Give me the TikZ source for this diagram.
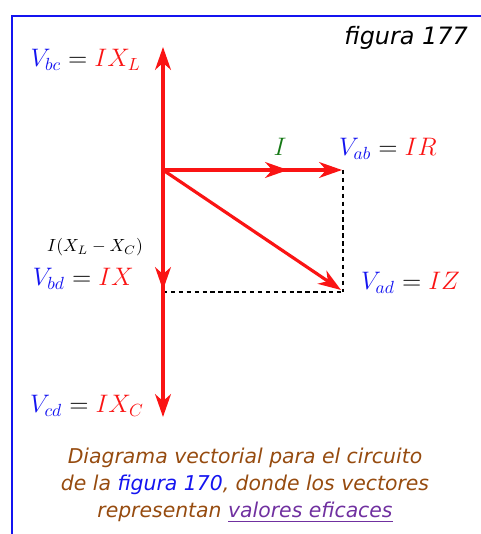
\documentclass[tikz,border=0pt]{standalone}
\usepackage{amsmath}
\usepackage{fontspec}
\setmainfont{DejaVu Sans}
\usepackage{xcolor}
\usepackage{tikz}
\usetikzlibrary{arrows.meta, positioning}
\definecolor{vblue}{RGB}{20,20,240}
\definecolor{vred}{RGB}{250,20,20}
\definecolor{igreen}{RGB}{20,120,20}
\definecolor{capbrown}{RGB}{150,75,15}
\definecolor{linkpurple}{RGB}{112,48,160}

\begin{document}
\begin{tikzpicture}[
    >={Stealth[length=13pt, width=9pt, inset=4pt]},
    vec/.style={->, vred, line width=1.8pt},
    proj/.style={dashed, black, line width=0.6pt, dash pattern=on 2.5pt off 2pt},
    mlab/.style={font=\Large},
    small/.style={font=\normalsize}
]
\useasboundingbox (0,0) rectangle (9.62,10.68);
% ---- frame ----
\draw[vblue, line width=1.6pt] (0.24,0) -- (0.24,10.36) -- (9.62,10.36);
\node[anchor=east, font=\itshape\fontsize{13.6}{15}\selectfont] (fig) at (9.48,9.92) {figura 177};

% ---- points ----
\coordinate (O) at (3.26,7.28);
\coordinate (L) at (3.26,9.74);
\coordinate (D) at (3.26,4.88);
\coordinate (C) at (3.26,2.34);
\coordinate (R) at (6.84,7.28);
\coordinate (Im) at (5.76,7.28);
\coordinate (Z) at (6.82,4.88);
\coordinate (Rc) at (6.86,7.28);
\coordinate (Dc) at (3.26,4.84);
\coordinate (Zc) at (6.86,4.84);

% ---- projections ----
\draw[proj] (Rc) -- (Zc);
\draw[proj] (Dc) -- (Zc);

% ---- vectors ----
\draw[vec] (O) -- (L);
\draw[vec] (O) -- (C);
\draw[vec] (O) -- (D);
\draw[vec] (O) -- (R);
\draw[vec] (O) -- (Im);
\draw[vec] (O) -- (Z);

% ---- labels ----
\node[mlab, anchor=east] (vbc) at (2.94,9.48) {$\color{vblue}V_{bc}\color{black} = \color{vred}IX_L$};
\node[mlab, text=igreen] (ilab) at (5.6,7.74) {$I$};
\node[mlab, anchor=west] (vab) at (6.66,7.7) {$\color{vblue}V_{ab}\color{black} = \color{vred}IR$};
\node[small] (ixx) at (1.9,5.74) {$I(X_L-X_C)$};
\node[mlab, anchor=east] (vbd) at (2.8,5.1) {$\color{vblue}V_{bd}\color{black} = \color{vred}IX$};
\node[mlab, anchor=west] (vad) at (7.1,5.02) {$\color{vblue}V_{ad}\color{black} = \color{vred}IZ$};
\node[mlab, anchor=east] (vcd) at (3.0,2.56) {$\color{vblue}V_{cd}\color{black} = \color{vred}IX_C$};

% ---- caption ----
\node[align=center, text=capbrown, font=\itshape\fontsize{11.6}{15.6}\selectfont] (cap) at (4.9,0.98)
    {Diagrama vectorial para el circuito\\
     de la \textcolor{vblue}{figura 170}, donde los vectores\\
     representan \textcolor{linkpurple}{\underline{valores eficaces}}};
\end{tikzpicture}
\end{document}
